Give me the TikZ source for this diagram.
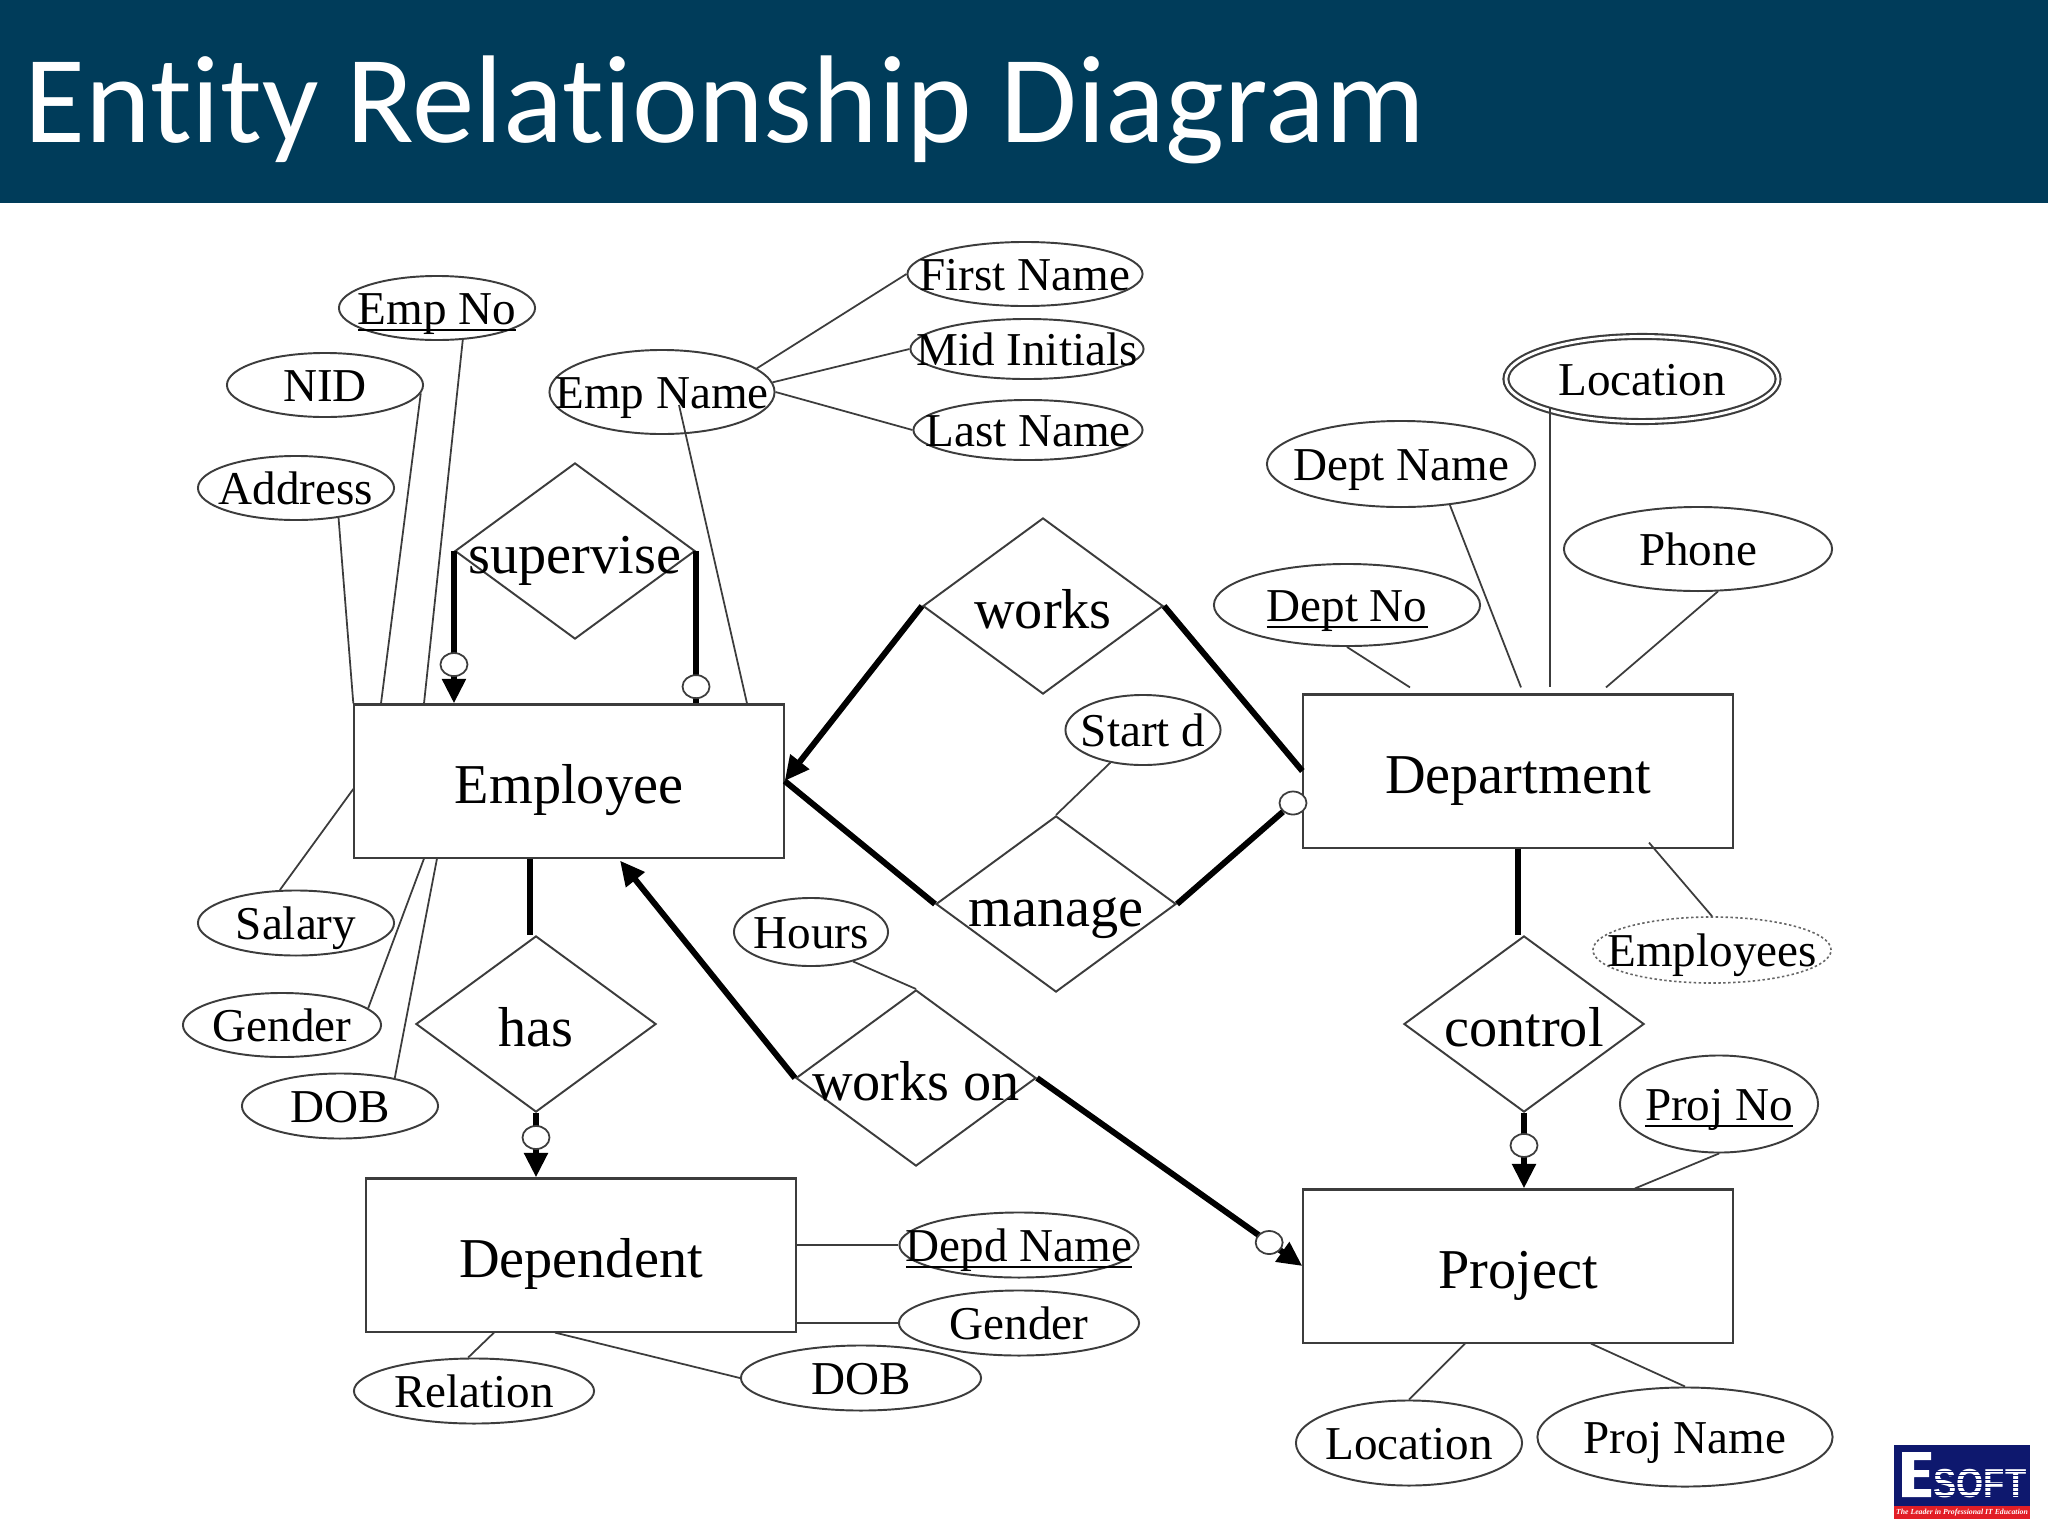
\documentclass[tikz,border=0pt]{standalone}
\usepackage{fontspec}
\usepackage{xcolor}
\usepackage{tikz}
\usetikzlibrary{arrows.meta,shapes.geometric}
\setmainfont{Liberation Serif}
\newfontfamily\titlefont[Ligatures=NoCommon]{Carlito}
\newfontfamily\logofont{Liberation Sans}
\definecolor{HeaderBlue}{RGB}{  0, 60, 90}
\definecolor{LineGray}  {RGB}{ 60, 60, 60}
\definecolor{EsoftNavy} {RGB}{ 14, 24,110}
\definecolor{EsoftRed}  {RGB}{226, 30, 38}
\newcommand{\Lbl}[1]{\makebox[0pt]{#1}}
\newcommand{\Key}[1]{\makebox[0pt]{\underline{\smash{#1}}}}
\tikzset{
  entity/.style={rectangle,draw=LineGray,line width=.6pt,
    minimum width=4.29cm,minimum height=1.53cm,inner sep=0pt,
    text height=13pt,text depth=0pt,
    font=\fontsize{16}{18}\selectfont},
  rel/.style={diamond,draw=LineGray,line width=.55pt,
    minimum width=2.4cm,minimum height=1.76cm,inner sep=0pt,
    text height=13pt,text depth=0pt,
    font=\fontsize{16}{18}\selectfont},
  attr/.style 2 args={ellipse,draw=LineGray,line width=.55pt,
    minimum width=#1cm,minimum height=#2cm,inner sep=0pt,
    text height=9.6pt,text depth=0pt,
    font=\fontsize{13.4}{15}\selectfont},
  thin link/.style={draw=LineGray,line width=.5pt},
  heavy link/.style={draw=black,line width=1.7pt},
  heavy arrow/.style={heavy link,-{Triangle[length=7pt,width=6.5pt]}},
  optc/.style={ellipse,draw=LineGray,fill=white,line width=.5pt,
    minimum width=.27cm,minimum height=.23cm,inner sep=0pt}
}
\begin{document}
\begin{tikzpicture}[x=.01cm,y=-.01cm]
  \useasboundingbox (0,0) rectangle (2048,1536);
  \fill[white] (0,0) rectangle (2048,1536);
  % Header band
  \fill[HeaderBlue] (0,0) rectangle (2048,203);
  \node[text=white,anchor=base west,inner sep=0pt,
        font=\titlefont\fontsize{35.5}{38}\selectfont]
    (title) at (24,142) {Entity Relationship Diagram};

  % Entities
  \node[entity] (employee)   at (569,781)   {Employee};
  \node[entity] (department) at (1518,771)  {Department};
  \node[entity] (dependent)  at (581,1255)  {Dependent};
  \node[entity] (project)    at (1518,1266) {Project};

  % Relationships
  \node[rel] (supervise) at (575,551)   {\Lbl{supervise}};
  \node[rel] (works)     at (1043,606)  {\Lbl{works}};
  \node[rel] (manage)    at (1056,904)  {\Lbl{manage}};
  \node[rel] (has)       at (536,1024)  {\Lbl{has}};
  \node[rel] (workson)   at (916,1078)  {\Lbl{works on}};
  \node[rel] (control)   at (1524,1024) {\Lbl{control}};

  % Attributes of Employee
  \node[attr={1.96}{.64}]  (empno)    at (437,308)  {\Key{Emp No}};
  \node[attr={1.96}{.64}]  (nid)      at (325,385)  {\Lbl{NID}};
  \node[attr={1.96}{.64}]  (address)  at (296,488)  {\Lbl{Address}};
  \node[attr={2.25}{.84}]  (empname)  at (662,392)  {\Lbl{Emp Name}};
  \node[attr={2.35}{.64}]  (firstname) at (1025,274) {\Lbl{First Name}};
  \node[attr={2.33}{.60}]  (midinit)  at (1027,349) {\Lbl{Mid Initials}};
  \node[attr={2.29}{.60}]  (lastname) at (1028,430) {\Lbl{Last Name}};
  \node[attr={1.96}{.65}]  (salary)   at (296,923)  {\Lbl{Salary}};
  \node[attr={1.98}{.64}]  (gender)   at (282,1025) {\Lbl{Gender}};
  \node[attr={1.96}{.65}]  (dob)      at (340,1106) {\Lbl{DOB}};

  % Attributes of Department
  \node[attr={2.72}{.85},line width=.6pt,double,double distance=.8pt] (location) at (1642,379) {\Lbl{Location}};
  \node[attr={2.68}{.86}]  (deptname) at (1401,464) {\Lbl{Dept Name}};
  \node[attr={2.68}{.84}]  (phone)    at (1698,549) {\Lbl{Phone}};
  \node[attr={2.66}{.82}]  (deptno)   at (1347,605) {\Key{Dept No}};
  \node[attr={2.38}{.66},draw=black!60,line width=.45pt,dash pattern=on .7pt off .7pt] (employees) at (1712,950) {\Lbl{Employees}};

  % Attributes of the relationships
  \node[attr={1.55}{.70}]  (startd)   at (1143,730) {\Lbl{Start d}};
  \node[attr={1.54}{.68}]  (hours)    at (811,932)  {\Lbl{Hours}};

  % Attributes of Dependent
  \node[attr={2.39}{.65}]  (depdname) at (1019,1245) {\Key{Depd Name}};
  \node[attr={2.40}{.65}]  (depgender) at (1019,1323) {\Lbl{Gender}};
  \node[attr={2.40}{.65}]  (depdob)   at (861,1378)  {\Lbl{DOB}};
  \node[attr={2.40}{.65}]  (relation) at (474,1391)  {\Lbl{Relation}};

  % Attributes of Project
  \node[attr={1.98}{.97}]  (projno)   at (1719,1104) {\Key{Proj No}};
  \node[attr={2.26}{.85}]  (projloc)  at (1409,1443) {\Lbl{Location}};
  \node[attr={2.95}{.99}]  (projname) at (1685,1437) {\Lbl{Proj Name}};

  % Thin links
  \draw[thin link] (empno.-51)   -- ([shift={(-145,0)}]employee.north);
  \draw[thin link] (nid.-5)      -- ([shift={(-188,0)}]employee.north);
  \draw[thin link] (address.-35) -- (employee.north west);
  \draw[thin link] ([shift={(17,13)}]empname.center) -- ([shift={(178,0)}]employee.north);
  \draw[thin link] (empname.14)  -- (firstname.west);
  \draw[thin link] (empname.5)   -- (midinit.west);
  \draw[thin link] (empname.east) -- (lastname.west);
  \draw[thin link] (salary.116)  -- ([shift={(0,8)}]employee.west);
  \draw[thin link] (gender.11)   -- ([shift={(-145,0)}]employee.south);
  \draw[thin link] (dob.27)      -- ([shift={(-132,0)}]employee.south);
  \draw[thin link] (deptno.south) -- ([shift={(-108,-6)}]department.north);
  \draw[thin link] (deptname.-40) -- ([shift={(3,-6)}]department.north);
  \draw[thin link] ([shift={(-92,28)}]location.center) -- ([shift={(32,-6)}]department.north);
  \draw[thin link] (phone.-65)   -- ([shift={(88,-6)}]department.north);
  \draw[thin link] (employees.north) -- ([shift={(131,-6)}]department.south);
  \draw[thin link] (startd.-135) -- (manage.north);
  \draw[thin link] (hours.-35)   -- (workson.north);
  \draw[thin link] (projno.south) -- ([shift={(117,0)}]project.north);
  \draw[thin link] (projloc.north) -- ([shift={(-53,0)}]project.south);
  \draw[thin link] (projname.north) -- ([shift={(73,0)}]project.south);
  \draw[thin link] (depdname.west) -- (depdname.west -| dependent.east);
  \draw[thin link] (depgender.west) -- (depgender.west -| dependent.east);
  \draw[thin link] (depdob.west) -- ([shift={(-26,0)}]dependent.south);
  \draw[thin link] (relation.100) -- ([shift={(-87,0)}]dependent.south);

  % Heavy links, the small circles sit on the line
  \draw[heavy arrow] (supervise.west) -- node[optc,pos=.745] (optsuperl) {} (supervise.west |- employee.north);
  \draw[heavy link]  (supervise.east) -- node[optc,pos=.89] (optsuperr) {} (supervise.east |- employee.north);
  \draw[heavy arrow] (works.west) -- (employee.east);
  \draw[heavy link]  (works.east) -- (department.west);
  \draw[heavy link]  (manage.west) -- (employee.east);
  \node[optc] (optmanage) at (1293,803) {};
  \draw[heavy link]  (manage.east) -- (optmanage);
  \draw[heavy link]  ([shift={(-39,0)}]employee.south) -- ([shift={(-6,0)}]has.north);
  \draw[heavy arrow] (has.south) -- node[optc,pos=.38] (opthas) {} (has.south |- dependent.north);
  \draw[heavy arrow] (workson.west) -- ([shift={(51,2)}]employee.south);
  \draw[heavy arrow] (workson.east) -- node[optc,pos=.875] (optworkson) {} (project.west);
  \draw[heavy link]  (department.south) -- ([shift={(-6,0)}]control.north);
  \draw[heavy arrow] (control.south) -- node[optc,pos=.43] (optcontrol) {} (control.south |- project.north);

  % ESOFT logo
  \fill[EsoftNavy] (1894,1445) rectangle (2030,1519);
  \fill[EsoftRed]  (1894,1506) rectangle (2030,1519);
  \fill[white] (1902,1452) -- (1931,1452) -- (1931,1460) -- (1914,1460) -- (1914,1470)
    -- (1929,1470) -- (1929,1477) -- (1914,1477) -- (1914,1489) -- (1931,1489)
    -- (1931,1497) -- (1902,1497) -- cycle;
  \node[text=white,anchor=base west,inner sep=0pt,font=\logofont\bfseries\fontsize{11.5}{12}\selectfont,
        xscale=.86,transform shape] (soft) at (1933,1497) {SOFT};
  \foreach \y in {1471,1475,...,1496}
    \fill[EsoftNavy] (1932,\y) rectangle (2028,\y+1.3);
  \node[text=white,inner sep=0pt,font=\bfseries\itshape\fontsize{2.2}{2.2}\selectfont]
    (tagline) at (1962,1512.5) {The Leader in Professional IT Education};
\end{tikzpicture}
\end{document}
